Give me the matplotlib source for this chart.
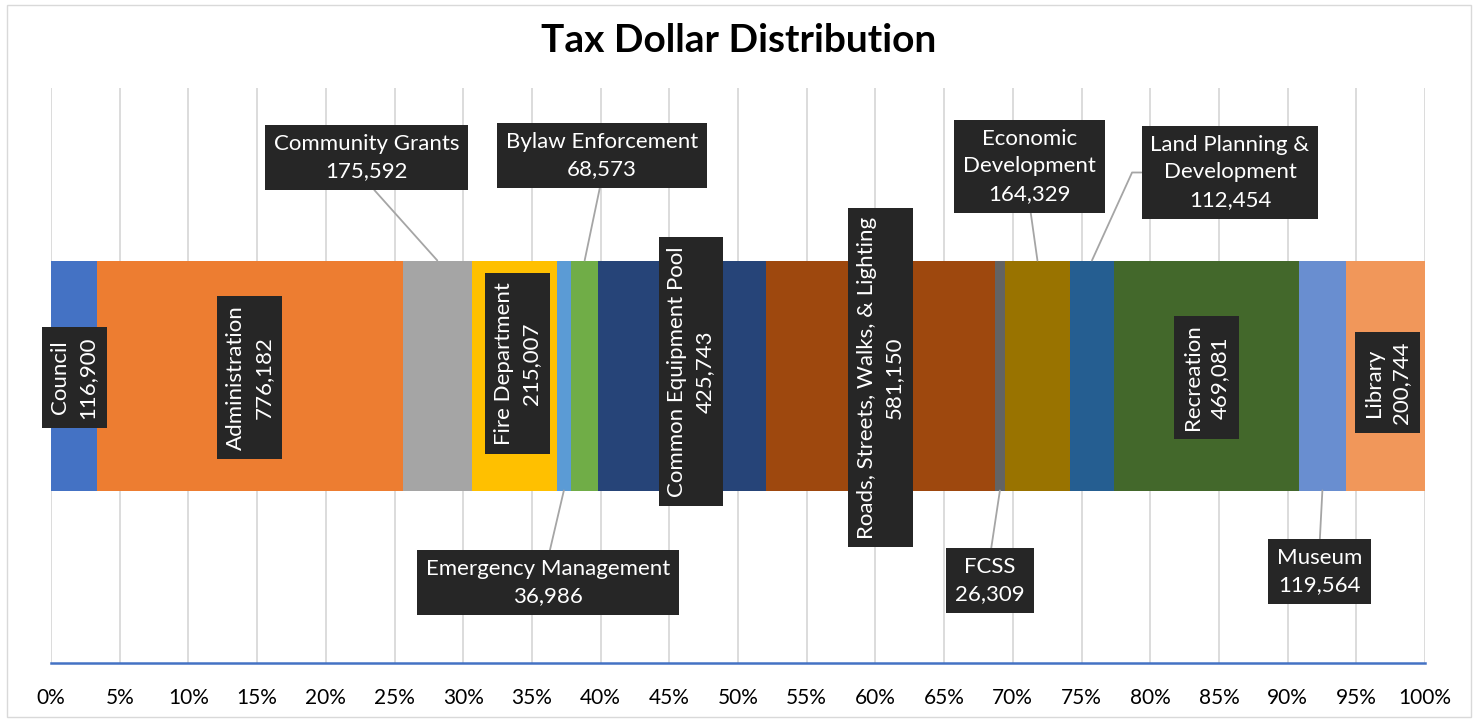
import matplotlib.pyplot as plt
import numpy as np
from matplotlib.patches import Rectangle

plt.rcParams['font.family'] = ['Lato', 'DejaVu Sans']

categories = ["Council", "Administration", "Community Grants", "Fire Department",
              "Emergency Management", "Bylaw Enforcement", "Common Equipment Pool",
              "Roads, Streets, Walks, & Lighting", "FCSS", "Economic Development",
              "Land Planning & Development", "Recreation", "Museum", "Library"]
amounts = [116900, 776182, 175592, 215007, 36986, 68573, 425743,
           581150, 26309, 164329, 112454, 469081, 119564, 200744]
colors = ['#4472C4', '#ED7D31', '#A5A5A5', '#FFC000', '#5B9BD5', '#70AD47', '#264478',
          '#9E480E', '#636363', '#997300', '#255E91', '#43682B', '#698ED0', '#F1975A']
wrapped = {"Economic Development": "Economic\nDevelopment",
           "Land Planning & Development": "Land Planning &\nDevelopment"}

# label layout: (dx, dy) pixels from segment centre, rotated?, leader side
label_layout = [(0, -2, True, None), (0, -2, True, None), (-71, 218, False, 'top'),
                (3, 12, True, None), (-16, -207, False, 'bottom'), (17, 220, False, 'top'),
                (9, 4, True, None), (0, -2, True, None), (-10, -205, False, 'bottom'),
                (-8, 209, False, 'top'), (138, 203, False, 'elbow'), (0, -2, True, None),
                (-3, -196, False, 'bottom'), (2, -7, True, None)]

amounts = np.array(amounts, dtype=float)
pct = amounts / amounts.sum() * 100
left = np.concatenate([[0], np.cumsum(pct)[:-1]])
centers = left + pct / 2

fig = plt.figure(figsize=(14.78, 7.22), dpi=100)
fig.patches.append(Rectangle((7 / 1478, 5 / 722), 1464 / 1478, 712 / 722, transform=fig.transFigure,
                             fill=False, edgecolor='#D9D9D9', lw=1))
ax = fig.add_axes([51 / 1478, 1 - 663 / 722, 1374 / 1478, 575 / 722])

bar_h = 0.4
ax.barh([0] * len(pct), pct, left=left, height=bar_h, color=colors, zorder=2)
ax.set_xlim(0, 100)
ax.set_ylim(-0.5, 0.5)
ax.set_xticks(np.arange(0, 101, 5))
ax.set_xticklabels([f"{t}%" for t in range(0, 101, 5)], fontsize=15)
ax.set_yticks([])
ax.tick_params(axis='x', length=0, pad=18)
ax.grid(axis='x', color='#D9D9D9', lw=1.3, zorder=0)
for s in ['top', 'left', 'right']:
    ax.spines[s].set_visible(False)
ax.spines['bottom'].set_color('#4472C4')
ax.spines['bottom'].set_linewidth(1.8)

fig.text(0.5, 1 - 40 / 722, "Tax Dollar Distribution", ha='center', va='center',
         fontsize=28, fontweight='bold')

half_px = ax.transData.transform((0, bar_h / 2))[1] - ax.transData.transform((0, 0))[1]
box = dict(boxstyle='square,pad=0.4', fc='#262626', ec='none')
line = dict(arrowstyle='-', color='#A5A5A5', lw=1.3, shrinkA=0, shrinkB=0)

for name, val, cx, (dx, dy, rot, lead) in zip(categories, amounts, centers, label_layout):
    txt = f"{wrapped.get(name, name)}\n{int(val):,}"
    kw = dict(ha='center', va='center', color='white', fontsize=16, bbox=box,
              linespacing=1.45, textcoords='offset pixels', zorder=5,
              rotation=90 if rot else 0, multialignment='center')
    if lead is None:
        ax.annotate(txt, xy=(cx, 0), xytext=(dx, dy), **kw)
    elif lead == 'elbow':
        ax.annotate(txt, xy=(cx, bar_h / 2), xytext=(dx, dy - half_px),
                    arrowprops=dict(line, relpos=(0, 0.5),
                                    connectionstyle='angle,angleA=180,angleB=65.5,rad=0'), **kw)
    else:
        sign = 1 if lead == 'top' else -1
        ax.annotate(txt, xy=(cx, sign * bar_h / 2), xytext=(dx, dy - sign * half_px),
                    arrowprops=dict(line, relpos=(0.5, 0 if sign > 0 else 1)), **kw)

fig.savefig('out.png', dpi=100)
